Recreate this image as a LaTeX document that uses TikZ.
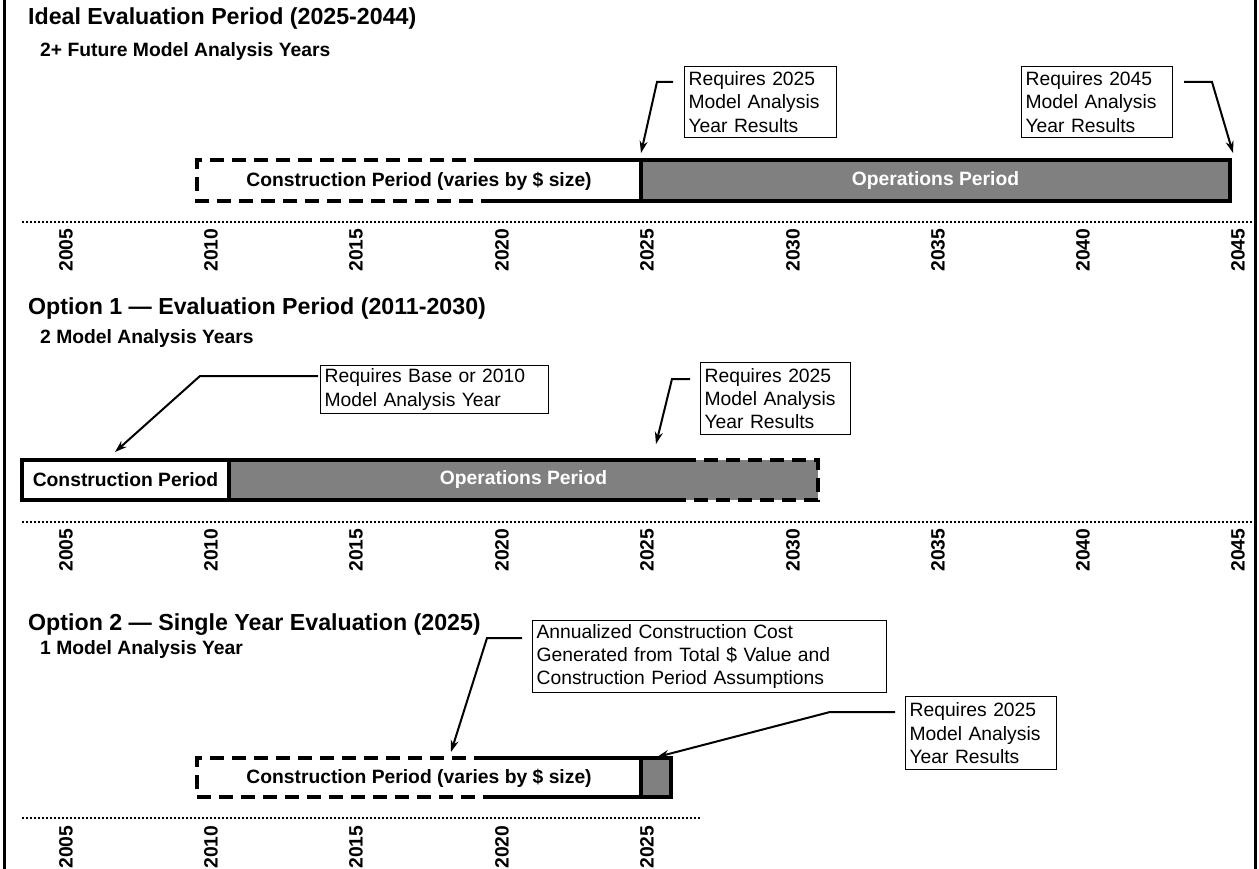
\documentclass[tikz,border=0pt]{standalone}
\usepackage{fontspec}
\setmainfont{Liberation Sans}
\usetikzlibrary{arrows.meta,calc}
\definecolor{opgray}{RGB}{128,128,128}
\tikzset{
 title/.style={anchor=base west, inner sep=0pt, font=\fontsize{23.2}{27}\selectfont\bfseries},
 subtitle/.style={anchor=base west, inner sep=0pt, font=\fontsize{19.3}{23}\selectfont\bfseries},
 yearlbl/.style={rotate=90, inner sep=0pt, font=\fontsize{19.3}{23}\selectfont\bfseries},
 barlabel/.style={inner sep=0pt, font=\fontsize{19.3}{23}\selectfont\bfseries},
 callout/.style={draw, line width=1.2pt, anchor=north west, align=left, inner xsep=4pt, inner ysep=0pt, font=\fontsize{19.3}{23.4}\selectfont},
 pointer/.style={line width=2pt, -{Stealth[length=12pt,width=8pt]}},
 barline/.style={line width=3.5pt, line join=miter},
 dashline/.style={line width=3.5pt, dash pattern=on 14pt off 8pt},
 axisline/.style={line width=2.5pt, dash pattern=on 1.5pt off 2.5pt},
 frameline/.style={line width=3pt}
}
\begin{document}
\begin{tikzpicture}[x=1pt,y=-1pt]
\useasboundingbox (0,0) rectangle (1259,869);
% frame
\draw[frameline] (4,0) -- (4,869);
\draw[frameline] (1255.5,0) -- (1255.5,869);

% ===== Section 1 =====
\node[title] (t1) at (28,25) {Ideal Evaluation Period (2025-2044)};
\node[subtitle] (s1) at (40,57) {2+ Future Model Analysis Years};

\fill[white] (197,160) rectangle (641,201);
\fill[opgray] (641,160) rectangle (1230,201);
\draw[dashline] (488,160) -- (197,160) -- (197,201) -- (488,201);
\draw[barline] (488,160) -- (1230,160) -- (1230,201) -- (488,201);
\draw[barline] (641,160) -- (641,201);
\node[barlabel] (b1c) at (419,181) {Construction Period (varies by \$ size)};
\node[barlabel, text=white] (b1o) at (935.5,181) {Operations Period};

\node[callout, text width=144pt, minimum height=71pt] (cA) at (684,66) {Requires 2025\\Model Analysis\\Year Results};
\node[callout, text width=143pt, minimum height=71pt] (cB) at (1021,66) {Requires 2045\\Model Analysis\\Year Results};
\coordinate (aA1) at (673,82); \coordinate (aA2) at (657,82); \coordinate (tipA) at (641,153);
\draw[pointer] (aA1) -- (aA2) -- (tipA);
\coordinate (aB1) at (1184,82); \coordinate (aB2) at (1212,82); \coordinate (tipB) at (1233,153);
\draw[pointer] (aB1) -- (aB2) -- (tipB);

\draw[axisline] (22,222) -- (1255,222);
\foreach \yr/\xx in {2005/66,2010/211,2015/356,2020/502,2025/647,2030/793,2035/938,2040/1083,2045/1238}
  \node[yearlbl] (ya\yr) at (\xx,250) {\yr};

% ===== Section 2 =====
\node[title] (t2) at (28,314) {Option 1 --- Evaluation Period (2011-2030)};
\node[subtitle] (s2) at (40,343) {2 Model Analysis Years};

\fill[white] (22,460) rectangle (229,500);
\fill[opgray] (229,460) rectangle (818,500);
\draw[barline] (682,460) -- (22,460) -- (22,500) -- (682,500);
\draw[dashline] (682,460) -- (818,460) -- (818,500) -- (682,500);
\draw[barline] (229,460) -- (229,500);
\node[barlabel] (b2c) at (125.5,480) {Construction Period};
\node[barlabel, text=white] (b2o) at (523.5,480) {Operations Period};

\node[callout, text width=220pt, minimum height=48pt] (cC) at (320,365) {Requires Base or 2010\\Model Analysis Year};
\node[callout, text width=142pt, minimum height=72pt] (cD) at (700,362) {Requires 2025\\Model Analysis\\Year Results};
\coordinate (aC1) at (318,376); \coordinate (aC2) at (200,376); \coordinate (tipC) at (115,452);
\draw[pointer] (aC1) -- (aC2) -- (tipC);
\coordinate (aD1) at (690,379); \coordinate (aD2) at (672,379); \coordinate (tipD) at (656,444);
\draw[pointer] (aD1) -- (aD2) -- (tipD);

\draw[axisline] (22,522) -- (1255,522);
\foreach \yr/\xx in {2005/66,2010/211,2015/356,2020/502,2025/647,2030/793,2035/938,2040/1083,2045/1238}
  \node[yearlbl] (yb\yr) at (\xx,550) {\yr};

% ===== Section 3 =====
\node[title] (t3) at (28,630) {Option 2 --- Single Year Evaluation (2025)};
\node[subtitle] (s3) at (40,654) {1 Model Analysis Year};

\fill[white] (197,758) rectangle (641,797);
\fill[opgray] (641,758) rectangle (671,797);
\draw[dashline] (488,758) -- (197,758) -- (197,797) -- (488,797);
\draw[barline] (488,758) -- (671,758) -- (671,797) -- (488,797);
\draw[barline] (641,758) -- (641,797);
\node[barlabel] (b3c) at (419,778) {Construction Period (varies by \$ size)};

\node[callout, text width=346pt, minimum height=72pt] (cE) at (532,620) {Annualized Construction Cost\\Generated from Total \$ Value and\\Construction Period Assumptions};
\node[callout, text width=143pt, minimum height=73pt] (cF) at (905,696) {Requires 2025\\Model Analysis\\Year Results};
\coordinate (aE1) at (522,638); \coordinate (aE2) at (487,638); \coordinate (tipE) at (451,752);
\draw[pointer] (aE1) -- (aE2) -- (tipE);
\coordinate (aF1) at (895,712); \coordinate (aF2) at (830,712); \coordinate (tipF) at (657,757);
\draw[pointer] (aF1) -- (aF2) -- (tipF);

\draw[axisline] (22,818) -- (700,818);
\foreach \yr/\xx in {2005/66,2010/211,2015/356,2020/502,2025/647}
  \node[yearlbl] (yc\yr) at (\xx,847) {\yr};
\end{tikzpicture}
\end{document}
